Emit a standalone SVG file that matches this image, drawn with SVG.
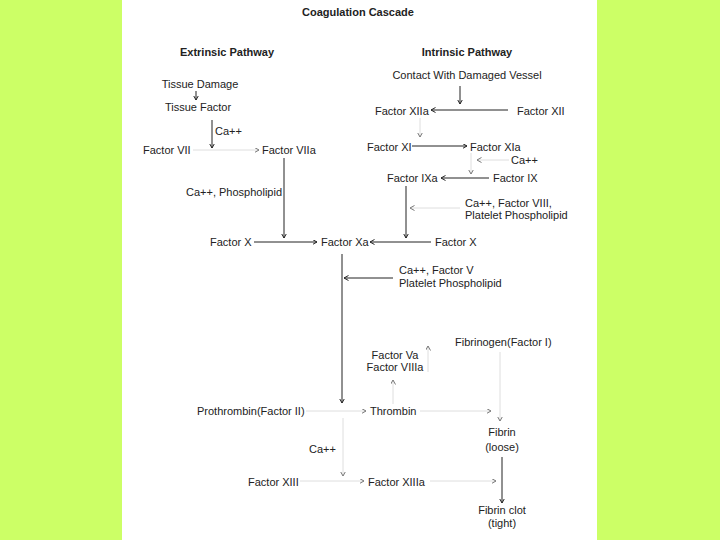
<svg xmlns="http://www.w3.org/2000/svg" width="720" height="540" viewBox="0 0 720 540">
<defs>
<style>
text{font-family:"Liberation Sans",Arial,sans-serif;font-size:11px;fill:#222}
.b{font-weight:bold}
.m{text-anchor:middle}
.k{stroke:#222;stroke-width:1;fill:none}
.g{stroke:#dedede;stroke-width:1;fill:none}
.k{marker-end:url(#ak)}
.g{marker-end:url(#ag)}
</style>
<marker id="ak" markerUnits="userSpaceOnUse" markerWidth="6" markerHeight="6" refX="4.5" refY="2.5" orient="auto"><path d="M0,0 L4.5,2.5 L0,5" fill="none" stroke="#222" stroke-width="1"/></marker>
<marker id="ag" markerUnits="userSpaceOnUse" markerWidth="6" markerHeight="6" refX="4.5" refY="2.5" orient="auto"><path d="M0,0 L4.5,2.5 L0,5" fill="none" stroke="#777" stroke-width="1"/></marker>
</defs>
<rect x="0" y="0" width="720" height="540" fill="#ccff66"/>
<rect x="122" y="0" width="475" height="540" fill="#ffffff"/>
<g id="headings">
<text class="b m" x="358" y="16">Coagulation Cascade</text>
<text class="b m" x="227" y="56">Extrinsic Pathway</text>
<text class="b m" x="467" y="56">Intrinsic Pathway</text>
</g>
<g id="connectors">
<path class="k" d="M196,91 V100"/>
<path class="k" d="M212,120 V148"/>
<path class="g" d="M193,150 H259"/>
<path class="k" d="M284,158 V238"/>
<path class="k" d="M254,242 H317"/>
<path class="k" d="M460,86 V104"/>
<path class="k" d="M508,110 H431"/>
<path class="g" d="M420,118 V137"/>
<path class="k" d="M412,146 H467"/>
<path class="g" d="M471,153 V174"/>
<path class="g" d="M509,160 H477"/>
<path class="k" d="M489,178 H441"/>
<path class="k" d="M406,186 V238"/>
<path class="g" d="M460,208 H410"/>
<path class="k" d="M431,242 H370"/>
<path class="k" d="M342,254 V403"/>
<path class="k" d="M393,278 H344"/>
<path class="g" d="M306,411 H366"/>
<path class="g" d="M393,404 V380"/>
<path class="g" d="M428,372 V346"/>
<path class="g" d="M420,411 H491"/>
<path class="g" d="M500,352 V421"/>
<path class="k" d="M502,457 V503"/>
<path class="g" d="M343,418 V476"/>
<path class="g" d="M300,481 H364"/>
<path class="g" d="M430,481 H496"/>
</g>
<g id="tissue-damage"><text class="m" x="200" y="88">Tissue Damage</text></g>
<g id="tissue-factor"><text class="m" x="198" y="111">Tissue Factor</text></g>
<g id="ca-1"><text x="215" y="135">Ca++</text></g>
<g id="factor-vii"><text x="143" y="154">Factor VII</text></g>
<g id="factor-viia"><text x="262" y="154">Factor VIIa</text></g>
<g id="ca-phospholipid"><text x="186" y="196">Ca++, Phospholipid</text></g>
<g id="factor-x-left"><text x="210" y="246">Factor X</text></g>
<g id="factor-xa"><text x="321" y="246">Factor Xa</text></g>
<g id="contact"><text class="m" x="467" y="79">Contact With Damaged Vessel</text></g>
<g id="factor-xiia"><text x="375" y="115">Factor XIIa</text></g>
<g id="factor-xii"><text x="517" y="115">Factor XII</text></g>
<g id="factor-xi"><text x="367" y="151">Factor XI</text></g>
<g id="factor-xia"><text x="470" y="151">Factor XIa</text></g>
<g id="ca-2"><text x="511" y="164">Ca++</text></g>
<g id="factor-ixa"><text x="387" y="182">Factor IXa</text></g>
<g id="factor-ix"><text x="493" y="182">Factor IX</text></g>
<g id="cofactor-viii"><text x="465" y="207">Ca++, Factor VIII,</text><text x="465" y="219">Platelet Phospholipid</text></g>
<g id="factor-x-right"><text x="435" y="246">Factor X</text></g>
<g id="cofactor-v"><text x="399" y="274">Ca++, Factor V</text><text x="399" y="287">Platelet Phospholipid</text></g>
<g id="fibrinogen"><text x="455" y="346">Fibrinogen(Factor I)</text></g>
<g id="factor-va-viiia"><text class="m" x="395" y="359">Factor Va</text><text class="m" x="395" y="371">Factor VIIIa</text></g>
<g id="prothrombin"><text x="197" y="415">Prothrombin(Factor II)</text></g>
<g id="thrombin"><text x="370" y="415">Thrombin</text></g>
<g id="fibrin"><text class="m" x="502" y="436">Fibrin</text><text class="m" x="502" y="451">(loose)</text></g>
<g id="ca-3"><text x="309" y="453">Ca++</text></g>
<g id="factor-xiii"><text x="248" y="486">Factor XIII</text></g>
<g id="factor-xiiia"><text x="368" y="486">Factor XIIIa</text></g>
<g id="fibrin-clot"><text class="m" x="502" y="514">Fibrin clot</text><text class="m" x="502" y="527">(tight)</text></g>
</svg>
